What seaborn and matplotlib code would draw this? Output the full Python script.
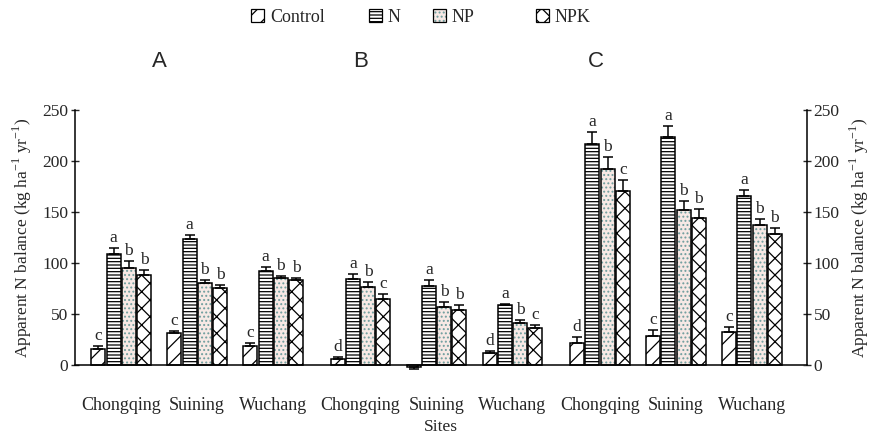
import numpy as np
import pandas as pd
import matplotlib
matplotlib.use("Agg")
import matplotlib.pyplot as plt
import matplotlib.transforms as mtransforms
from matplotlib.patches import Patch
from matplotlib.colors import to_rgba
import seaborn as sns

# ---------------- data ----------------
panels = ["A", "B", "C"]
sites = ["Chongqing", "Suining", "Wuchang"]
treatments = ["Control", "N", "NP", "NPK"]

# order: A-Chongqing, A-Suining, A-Wuchang, B-..., C-...
control = [15.5, 31, 18.5, 6, -2, 11.4, 21.6, 28, 32]
n_only = [109, 123, 92, 84, 77.5, 58.5, 217, 223, 166]
np_vals = [95, 80, 85, 76, 57, 41.4, 192, 152, 137]
npk = [88, 75, 83, 65, 54, 36, 170, 144, 128]

control_err = [3, 2.4, 3, 1.5, 2, 2, 5.4, 6, 5]
n_err = [5.4, 4.5, 3.6, 5, 5.4, 1, 11, 11, 5]
np_err = [6.6, 3, 2.4, 5, 5, 2.4, 12, 9, 6]
npk_err = [5.4, 3, 2.4, 4.5, 4.5, 3, 11, 9, 6]

control_let = ["c", "c", "c", "d", "c", "d", "d", "c", "c"]
n_let = ["a", "a", "a", "a", "a", "a", "a", "a", "a"]
np_let = ["b", "b", "b", "b", "b", "b", "b", "b", "b"]
npk_let = ["b", "b", "b", "c", "b", "c", "c", "b", "b"]

values = {"Control": control, "N": n_only, "NP": np_vals, "NPK": npk}
errors = {"Control": control_err, "N": n_err, "NP": np_err, "NPK": npk_err}
letters = {"Control": control_let, "N": n_let, "NP": np_let, "NPK": npk_let}

# ---------------- layout ----------------
GROUP_STEP = 3.15
positions = [g * GROUP_STEP + s for g in range(len(panels)) for s in range(len(sites))]
site_labels = [s for _ in panels for s in sites]

rows = []
for t in treatments:
    for i, p in enumerate(positions):
        rows.append({"pos": p, "treatment": t, "value": values[t][i]})
df = pd.DataFrame(rows)

sns.set_style("white")
plt.rcParams["font.family"] = ["Liberation Serif", "DejaVu Serif"]
plt.rcParams["mathtext.fontset"] = "custom"
plt.rcParams["mathtext.rm"] = "Liberation Serif"
plt.rcParams["hatch.linewidth"] = 0.9

fig = plt.figure(figsize=(8.74, 4.36), dpi=100)
ax = fig.add_axes([0.086, 0.163, 0.837, 0.585])

sns.barplot(data=df, x="pos", y="value", hue="treatment", hue_order=treatments,
            native_scale=True, palette={t: "white" for t in treatments},
            width=0.8, gap=0.08, errorbar=None, legend=False,
            edgecolor="black", linewidth=1.1, ax=ax)

hatches = {"Control": "//", "N": "-----", "NP": "....", "NPK": "xx"}
faces = {"Control": "white", "N": "white", "NP": "#f7e9e5", "NPK": "white"}
hcolors = {"Control": "black", "N": "black", "NP": "#6f9e9e", "NPK": "black"}


def set_hatch_color(patch, color):
    if hasattr(patch, "set_hatchcolor"):
        patch.set_hatchcolor(color)
    else:
        patch._hatch_color = to_rgba(color)


pos_arr = np.array(positions)
for t, cont in zip(treatments, ax.containers):
    for bar in cont:
        xc = bar.get_x() + bar.get_width() / 2
        i = int(np.argmin(np.abs(pos_arr - xc)))
        bar.set_facecolor(faces[t])
        bar.set_edgecolor("black")
        bar.set_hatch(hatches[t])
        set_hatch_color(bar, hcolors[t])
        bar.set_clip_on(False)
        v = values[t][i]
        e = errors[t][i]
        if v >= 0:
            yerr = [[0], [e]]
            top = v + e
            ax.annotate(letters[t][i], (xc, top), xytext=(0, 1.5),
                        textcoords="offset points", ha="center", va="bottom",
                        fontsize=12.5)
        else:
            yerr = [[e], [0]]
            top = v - e
            ax.annotate(letters[t][i], (xc, top), xytext=(0, -1.5),
                        textcoords="offset points", ha="center", va="top",
                        fontsize=12.5)
        ax.errorbar([xc], [v], yerr=yerr, fmt="none", ecolor="black",
                    elinewidth=1.1, capsize=3.5, capthick=1.1, clip_on=False)

ax.set_xlim(-0.605, 9.02)
ax.set_ylim(0, 250)
ax.set_yticks([0, 50, 100, 150, 200, 250])
ax.set_xticks(positions)
ax.set_xticklabels(site_labels, fontsize=13)
ax.tick_params(axis="x", length=0, pad=23)
ax.tick_params(axis="y", direction="inout", length=6, width=1, labelsize=12.5, pad=2)
ax.set_xlabel("Sites", fontsize=12.5, labelpad=4)
ylab = "Apparent N balance (kg ha$^{-1}$ yr$^{-1}$)"
ax.set_ylabel(ylab, fontsize=12.5, labelpad=6)
for sp in ["top", "right"]:
    ax.spines[sp].set_visible(False)
for sp in ["left", "bottom"]:
    ax.spines[sp].set_color("black")
    ax.spines[sp].set_linewidth(1.1)

ax2 = ax.twinx()
ax2.set_ylim(0, 250)
ax2.set_yticks([0, 50, 100, 150, 200, 250])
ax2.tick_params(axis="y", direction="inout", length=6, width=1, labelsize=12.5, pad=2)
ax2.set_ylabel(ylab, fontsize=12.5, labelpad=6, rotation=90)
for sp in ["top", "left", "bottom"]:
    ax2.spines[sp].set_visible(False)
ax2.spines["right"].set_color("black")
ax2.spines["right"].set_linewidth(1.1)

# panel letters
trans = mtransforms.blended_transform_factory(ax.transData, ax.transAxes)
panel_x = [0.5, GROUP_STEP, 2 * GROUP_STEP - 0.05]
for lab, px in zip(panels, panel_x):
    ax.text(px, 1.19, lab, transform=trans, ha="center", va="center",
            fontsize=16, family=["Liberation Sans", "DejaVu Sans"])

# legend: one entry per legend, placed like the reference
legend_x = [0.287, 0.422, 0.495, 0.613]
for t, lx in zip(treatments, legend_x):
    h = Patch(facecolor=faces[t], edgecolor="black", hatch=hatches[t], linewidth=0.9, label=t)
    leg = fig.legend(handles=[h], loc="center left", bbox_to_anchor=(lx, 0.96),
                     frameon=False, fontsize=13, handlelength=0.75, handleheight=0.75,
                     handletextpad=0.3, borderpad=0, borderaxespad=0)
    for hp in leg.get_patches():
        set_hatch_color(hp, hcolors[t])

fig.savefig("out.png", dpi=100)
